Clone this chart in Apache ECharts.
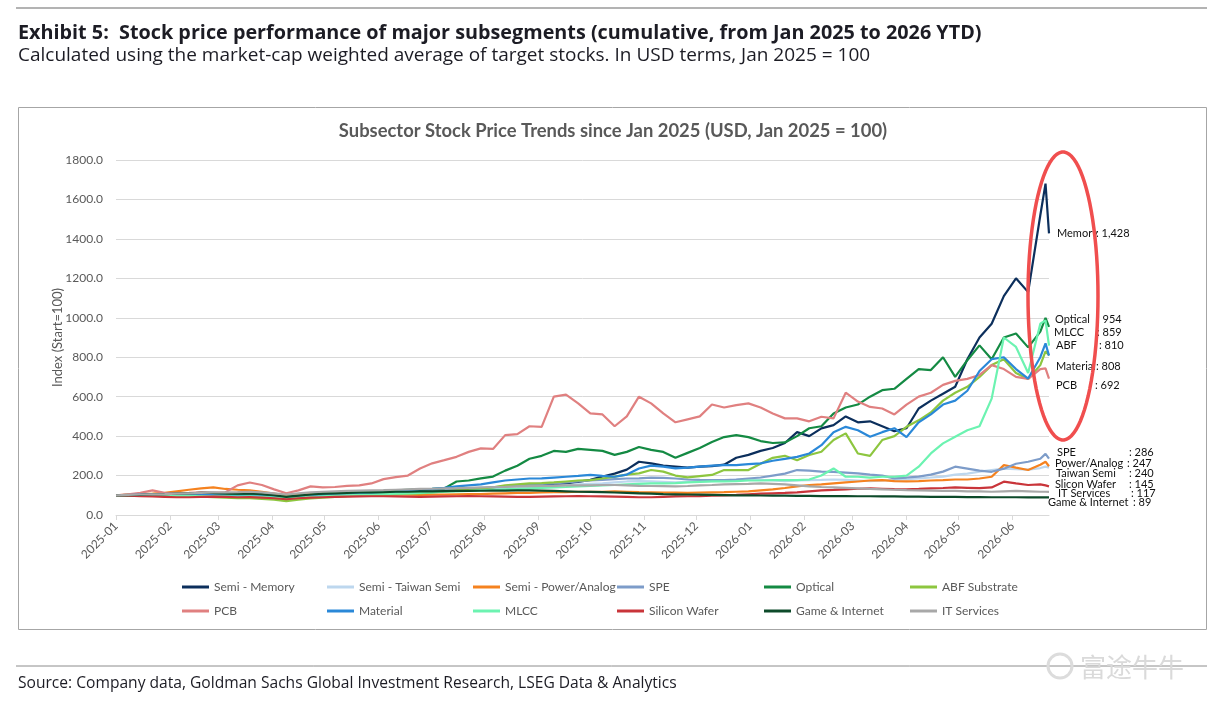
<!DOCTYPE html>
<html>
<head>
<meta charset="utf-8">
<script src="https://cdn.jsdelivr.net/npm/echarts@6/dist/echarts.min.js"></script>
<style>
html, body { margin: 0; padding: 0; background: #fff; }
#chart { width: 1225px; height: 705px; }
</style>
</head>
<body>
<div id="chart"></div>
<script>
// weekly sample dates (plus the last two trading days)
const dates = [
  '2025-01-01','2025-01-08','2025-01-15','2025-01-22','2025-01-29',
  '2025-02-05','2025-02-12','2025-02-19','2025-02-26',
  '2025-03-05','2025-03-12','2025-03-19','2025-03-26',
  '2025-04-02','2025-04-09','2025-04-16','2025-04-23','2025-04-30',
  '2025-05-07','2025-05-14','2025-05-21','2025-05-28',
  '2025-06-04','2025-06-11','2025-06-18','2025-06-25',
  '2025-07-02','2025-07-09','2025-07-16','2025-07-23','2025-07-30',
  '2025-08-06','2025-08-13','2025-08-20','2025-08-27',
  '2025-09-03','2025-09-10','2025-09-17','2025-09-24',
  '2025-10-01','2025-10-08','2025-10-15','2025-10-22','2025-10-29',
  '2025-11-05','2025-11-12','2025-11-19','2025-11-26',
  '2025-12-03','2025-12-10','2025-12-17','2025-12-24','2025-12-31',
  '2026-01-07','2026-01-14','2026-01-21','2026-01-28',
  '2026-02-04','2026-02-11','2026-02-18','2026-02-25',
  '2026-03-04','2026-03-11','2026-03-18','2026-03-25',
  '2026-04-01','2026-04-08','2026-04-15','2026-04-22','2026-04-29',
  '2026-05-06','2026-05-13','2026-05-20','2026-05-27',
  '2026-06-03','2026-06-10','2026-06-17','2026-06-20','2026-06-22'
]

const memory = [100,101,103,102,100,98,97,97,96,94,
  95,96,92,88,82,88,92,95,100,104,
  105,106,110,112,115,120,124,128,130,132,
  135,136,140,142,145,150,155,160,168,178,
  195,210,230,270,262,250,245,240,245,248,
  255,290,305,325,340,365,420,400,439,456,
  500,470,475,450,425,440,540,580,615,650,
  790,900,970,1110,1200,1130,1520,1680,1428]
const taiwanSemi = [100,101,102,101,100,99,98,97,96,95,
  96,97,94,90,85,90,95,98,100,103,
  105,108,110,112,115,118,120,125,128,130,
  132,135,138,140,142,145,148,150,155,158,
  160,165,170,172,170,168,165,168,170,172,
  175,178,180,178,175,172,175,177,178,180,
  178,175,172,175,178,182,185,190,195,205,
  210,220,228,235,232,230,238,245,240]
const powerAnalog = [100,103,106,108,112,120,128,135,140,132,
  128,125,118,108,98,102,106,108,110,108,
  108,106,105,104,103,102,103,104,105,106,
  106,108,110,112,112,115,116,116,118,118,
  118,120,118,116,115,114,113,112,114,115,
  116,118,120,125,130,137,145,152,155,160,
  165,170,175,177,172,170,172,175,177,180,
  180,185,194,253,240,228,255,270,247]
const spe = [100,102,104,103,105,106,105,104,102,100,
  98,99,96,92,86,92,96,100,104,106,
  108,110,112,115,118,120,122,125,128,130,
  135,140,145,150,155,158,160,165,170,175,
  178,182,185,186,190,188,185,180,178,177,
  177,180,185,190,200,210,228,225,220,219,
  215,211,205,200,186,190,195,205,220,245,
  235,225,219,235,260,270,285,310,286]
const optical = [100,102,104,103,105,108,110,112,110,108,
  106,108,104,98,92,98,104,108,112,115,
  118,120,122,125,128,130,132,135,170,175,
  186,195,225,250,285,300,325,320,335,330,
  325,305,320,345,330,320,290,315,340,370,
  395,405,395,375,365,368,400,440,450,515,
  545,560,600,633,640,690,740,735,800,700,
  785,860,790,900,920,850,930,1000,954]
const abf = [100,98,97,98,96,95,95,93,90,88,
  86,85,82,78,70,78,84,88,92,95,
  98,100,102,105,108,110,115,120,125,130,
  135,140,150,155,160,162,165,170,175,177,
  185,195,205,211,228,220,200,191,197,203,
  228,228,228,260,290,300,278,304,321,380,
  414,312,300,380,400,447,480,520,580,620,
  650,700,760,790,720,690,760,830,810]
const pcb = [100,105,112,125,112,110,112,115,112,115,
  150,165,152,130,110,125,145,140,142,148,
  150,160,182,192,200,236,262,278,295,320,
  338,335,405,410,450,447,600,610,566,515,
  510,450,500,600,566,515,470,485,500,560,
  545,557,566,545,515,490,490,475,498,490,
  620,575,548,540,510,560,600,620,660,680,
  690,710,760,740,700,690,740,743,692]
const material = [100,101,103,104,103,102,104,103,100,98,
  97,98,95,90,84,90,95,98,102,105,
  108,110,113,118,122,128,132,138,145,150,
  155,165,175,180,185,186,190,194,198,203,
  198,194,205,236,250,245,236,240,245,250,
  253,253,258,262,275,285,295,312,354,420,
  447,430,397,420,440,395,470,510,560,580,
  630,730,790,800,740,692,800,870,808]
const mlcc = [100,100,101,100,99,98,97,96,95,94,
  93,94,92,88,84,88,92,95,98,100,
  102,104,106,108,110,112,115,118,120,122,
  125,128,130,132,135,138,140,142,145,148,
  150,152,155,158,160,160,162,165,168,170,
  170,172,175,175,177,177,177,180,200,236,
  194,194,190,194,194,200,245,312,363,397,
  430,450,590,900,852,720,970,987,859]
const siliconWafer = [100,98,96,94,92,90,90,92,93,92,
  90,91,88,85,80,85,88,90,92,93,
  94,95,95,94,93,92,93,94,95,96,
  95,94,93,92,92,93,94,95,96,95,
  94,93,92,90,90,92,94,95,96,98,
  100,102,105,108,110,112,115,120,125,127,
  130,133,135,133,131,130,132,135,137,140,
  138,136,140,169,160,152,155,150,145]
const gameInternet = [100,101,102,104,106,108,110,112,112,110,
  108,109,106,100,92,98,104,108,110,112,
  114,115,116,118,118,120,120,121,122,122,
  123,124,124,125,125,124,122,120,118,117,
  116,114,112,110,108,106,105,104,103,102,
  101,100,100,99,98,98,97,97,96,96,
  96,95,95,94,94,93,93,92,92,92,
  91,91,90,90,90,89,89,89,89]
const itServices = [100,102,104,105,106,108,110,112,114,115,
  116,118,115,110,104,110,115,118,120,122,
  124,125,126,128,130,132,133,135,136,138,
  140,142,143,145,146,147,148,150,150,150,
  152,152,150,148,147,146,145,147,150,152,
  155,157,158,160,158,155,150,145,142,140,
  138,135,132,130,128,126,125,124,122,122,
  120,120,118,120,122,120,118,118,117]

const seriesNames = ['Semi - Memory', 'Semi - Taiwan Semi', 'Semi - Power/Analog', 'SPE', 'Optical', 'ABF Substrate',
  'PCB', 'Material', 'MLCC', 'Silicon Wafer', 'Game & Internet', 'IT Services']
const seriesValues = [memory, taiwanSemi, powerAnalog, spe, optical, abf,
  pcb, material, mlcc, siliconWafer, gameInternet, itServices]

// month labels on the x axis
const monthTicks = ['2025-01-01','2025-02-01','2025-03-01','2025-04-01','2025-05-01','2025-06-01',
  '2025-07-01','2025-08-01','2025-09-01','2025-10-01','2025-11-01','2025-12-01',
  '2026-01-01','2026-02-01','2026-03-01','2026-04-01','2026-05-01','2026-06-01']

// callouts at the right end of the lines
const endNames = ['Memory', 'Optical', 'MLCC', 'ABF', 'Material', 'PCB',
  'SPE', 'Power/Analog', 'Taiwan Semi', 'Slicon Wafer', 'IT Services', 'Game & Internet']
const endValues = [1428, 954, 859, 810, 808, 692, 286, 247, 240, 145, 117, 89]

const title = 'Exhibit 5:  Stock price performance of major subsegments (cumulative, from Jan 2025 to 2026 YTD)'
const subtitle = 'Calculated using the market-cap weighted average of target stocks. In USD terms, Jan 2025 = 100'
const chartTitle = 'Subsector Stock Price Trends since Jan 2025 (USD, Jan 2025 = 100)'
const source = 'Source: Company data, Goldman Sachs Global Investment Research, LSEG Data & Analytics'

const colors = ['#0c2f5c', '#bdd7ee', '#f5821f', '#7d9cc9', '#148a43', '#8dc63f',
  '#e08080', '#2a88d8', '#6cf3b1', '#c9353a', '#0d4a2a', '#a8a8a8']
const FONT = 'Lato'
const HEAD_FONT = '"Open Sans"'
const GRAY = '#595959'

// dates as timestamps (UTC) so a plain value axis can carry them
const ts = (d) => Date.parse(d + 'T00:00:00Z')
const pad = (n) => (n < 10 ? '0' : '') + n
const fmtMonth = (v) => {
  const d = new Date(v)
  return d.getUTCFullYear() + '-' + pad(d.getUTCMonth() + 1)
}

const chartInstance = echarts.init(document.getElementById('chart'))

// name x, value x, y
const calloutPos = [
  [1057, 1096, 233], [1055, 1097, 319], [1054, 1097, 332.5], [1056, 1099, 345],
  [1056, 1096, 366.5], [1056, 1095, 385],
  [1057, 1129, 452.5], [1055, 1127, 463], [1056, 1129, 473.5], [1055, 1129, 484.5],
  [1058, 1131, 493.5], [1048, 1133, 502.5]
]

const graphics = []
graphics.push({ type: 'line', shape: { x1: 16, y1: 8, x2: 1207, y2: 8 }, style: { stroke: '#b3b3b3', lineWidth: 2 } })
graphics.push({ type: 'text', x: 18, y: 33, style: { text: title, font: 'bold 19.8px ' + HEAD_FONT, fill: '#1c1c24', textVerticalAlign: 'middle' } })
graphics.push({ type: 'text', x: 18, y: 56, style: { text: subtitle, font: '19px ' + HEAD_FONT, fill: '#1c1c24', textVerticalAlign: 'middle' } })
graphics.push({ type: 'rect', shape: { x: 18.5, y: 107.5, width: 1188, height: 522 }, style: { fill: 'none', stroke: '#a6a6a6', lineWidth: 1 } })
graphics.push({ type: 'text', x: 613, y: 131, style: { text: chartTitle, font: 'bold 18.4px ' + FONT, fill: GRAY, textAlign: 'center', textVerticalAlign: 'middle' } })
graphics.push({ type: 'line', shape: { x1: 16, y1: 666, x2: 1207, y2: 666 }, style: { stroke: '#8c8c8c', lineWidth: 1 } })
graphics.push({ type: 'text', x: 18, y: 684, style: { text: source, font: '15.6px ' + HEAD_FONT, fill: '#1c1c24', textVerticalAlign: 'middle' } })
graphics.push({ type: 'circle', shape: { cx: 1060, cy: 666, r: 12 }, style: { fill: 'none', stroke: '#dcdcdc', lineWidth: 3 } })
graphics.push({ type: 'text', x: 1080, y: 667, style: { text: '富途牛牛', font: '26px "Noto Sans CJK SC"', fill: '#dadada', textVerticalAlign: 'middle' } })

endNames.forEach((n, i) => {
  const p = calloutPos[i]
  graphics.push({ type: 'text', x: p[0], y: p[2], z: 10, style: { text: n, font: '11px ' + FONT, fill: '#111', textVerticalAlign: 'middle' } })
  graphics.push({ type: 'text', x: p[1], y: p[2], z: 10, style: { text: ': ' + endValues[i].toLocaleString('en-US'), font: '11px ' + FONT, fill: '#111', textVerticalAlign: 'middle' } })
})

// red ellipse around the top performers
const ellipsePts = []
for (let a = 0; a < 360; a += 4) {
  const r = a * Math.PI / 180
  ellipsePts.push([1063 + 35 * Math.cos(r), 296 + 144 * Math.sin(r)])
}
graphics.push({ type: 'polygon', z: 20, shape: { points: ellipsePts }, style: { fill: 'none', stroke: '#f04e4e', lineWidth: 3.5 } })

const legendCols = [182, 327, 473, 617, 764, 910]
const legendRows = [587, 611]

const option = {
  animation: false,
  color: colors,
  grid: { left: 116, right: 176, top: 160, bottom: 190 },
  legend: seriesNames.map((n, i) => ({
    data: [n],
    left: legendCols[i % 6],
    top: legendRows[Math.floor(i / 6)] - 8,
    padding: 0,
    icon: 'rect',
    itemWidth: 27,
    itemHeight: 3,
    selectedMode: false,
    textStyle: { fontFamily: FONT, fontSize: 12, color: GRAY, lineHeight: 16 }
  })),
  xAxis: {
    type: 'value',
    min: ts('2025-01-01'),
    max: ts('2026-06-22'),
    axisLine: { show: true, onZero: false, lineStyle: { color: '#d9d9d9', width: 1 } },
    axisTick: { show: true, length: 5, lineStyle: { color: '#d9d9d9' }, customValues: monthTicks.map(ts) },
    axisLabel: {
      customValues: monthTicks.map(ts),
      rotate: 45,
      margin: 9,
      fontFamily: FONT,
      fontSize: 12,
      color: GRAY,
      formatter: fmtMonth
    },
    splitLine: { show: false }
  },
  yAxis: {
    type: 'value',
    min: 0,
    max: 1800,
    interval: 200,
    name: 'Index (Start=100)',
    nameLocation: 'middle',
    nameGap: 52,
    nameMoveOverlap: false,
    nameRotate: 90,
    nameTextStyle: { fontFamily: FONT, fontSize: 13, color: GRAY },
    axisLine: { show: false },
    axisTick: { show: false },
    axisLabel: { margin: 13, fontFamily: FONT, fontSize: 12, color: GRAY, formatter: (v) => v.toFixed(1) },
    splitLine: { lineStyle: { color: '#d9d9d9', width: 1 } }
  },
  series: seriesNames.map((n, i) => ({
    name: n,
    type: 'line',
    symbol: 'none',
    lineStyle: { width: 2.2 },
    data: dates.map((d, j) => [ts(d), seriesValues[i][j]])
  })),
  graphic: graphics
}

chartInstance.setOption(option)
</script>
</body>
</html>
